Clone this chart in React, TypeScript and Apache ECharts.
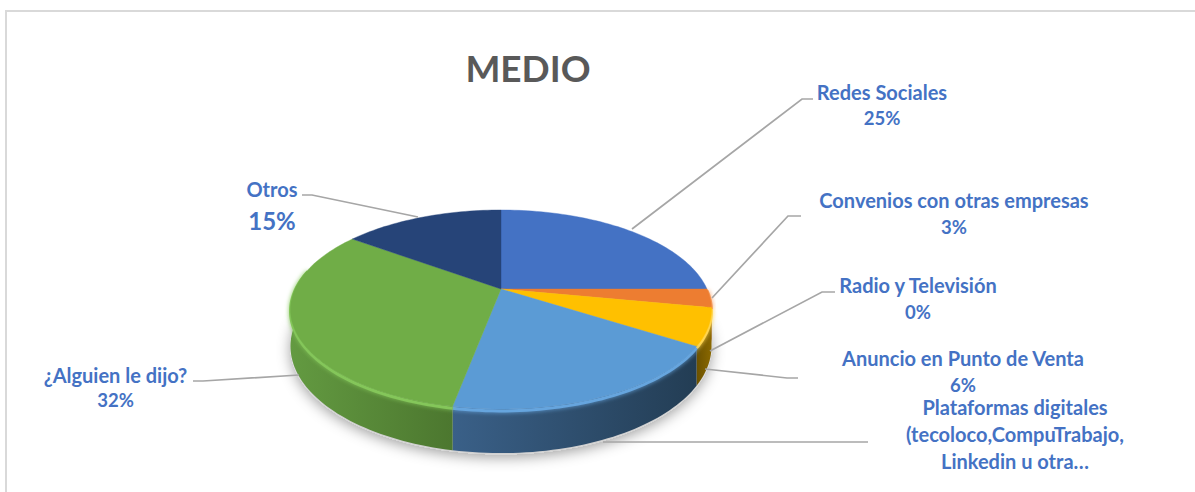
import React, { useEffect, useRef } from "react";
import * as echarts from "echarts";

// Chart content
const chartTitle = "MEDIO";
const categories = [
  "Redes Sociales",
  "Convenios con otras empresas",
  "Radio y Televisión",
  "Anuncio en Punto de Venta",
  "Plataformas digitales\n(tecoloco,CompuTrabajo,\nLinkedin u otra…",
  "¿Alguien le dijo?",
  "Otros",
];
const shares = [25, 3, 0, 6, 19, 32, 15];
const percentShown = [true, true, true, true, false, true, true];

// Slice styling
const topColors = ["#4472C4", "#ED7D31", "#A5A5A5", "#FFC000", "#5B9BD5", "#70AD47", "#264478"];
const rimColors = ["#5F8BD8", "#F59A5C", "#BBBBBB", "#FFD54F", "#66A5DE", "#84C65A", "#3A5C98"];
const sideStops: string[][] = [
  ["#2F5597", "#2F5597"],
  ["#A5561F", "#A5561F"],
  ["#777777", "#777777"],
  ["#6B5100", "#8A6800"],
  ["#3A6088", "#233D54"],
  ["#639A41", "#4C772F"],
  ["#1A2F54", "#1A2F54"],
];

// Perspective disc geometry
const CX = 501;
const CY = 289;
const RX = 206;
const RY = 95.3;
const PERSPECTIVE = 0.206;
const THICKNESS = 35;

// Label placement: anchor of the name, y of the percentage, leader line
const labelLayout = [
  { x: 882, y: 92, py: 118, line: [[632, 229], [802, 99], [813, 99]] },
  { x: 954, y: 200, py: 227, line: [[712, 298], [788, 216], [801, 216]] },
  { x: 918, y: 285, py: 312, line: [[710, 351], [822, 292], [835, 292]] },
  { x: 963, y: 358, py: 385, line: [[705, 369], [787, 378], [798, 378]] },
  { x: 1015, y: 434, py: 0, line: [[603, 442], [868, 442]] },
  { x: 115.5, y: 375, py: 400, line: [[299, 375], [203, 381], [193, 381]] },
  { x: 272, y: 189, py: 220, line: [[418, 217], [312, 195], [302, 195]] },
];

const FONT = "Lato";
const LABEL_COLOR = "#4472C4";
const FRONT_START = 90;
const FRONT_END = 270;
const RIM_END = 282;

const total = shares.reduce((a, b) => a + b, 0);
const startAngle = (i: number) =>
  (shares.slice(0, i).reduce((a, b) => a + b, 0) / total) * 360;

// Projects a rim angle (clockwise from the back of the disc) to the page
const project = (deg: number, drop = 0, radius = 1): number[] => {
  const t = (deg * Math.PI) / 180;
  const u = Math.sin(t) * radius;
  const v = -Math.cos(t) * radius;
  const w = 1 - PERSPECTIVE * v;
  return [CX + (RX * u) / w, CY + (RY * v + drop) / w];
};

const arc = (from: number, to: number, drop = 0): number[][] => {
  const n = Math.max(2, Math.ceil(Math.abs(to - from) / 1.5));
  const pts: number[][] = [];
  for (let i = 0; i <= n; i++) pts.push(project(from + ((to - from) * i) / n, drop));
  return pts;
};

const renderGround = (params: any) => {
  if (params.dataIndex !== 0) return { type: "group", children: [] };
  return {
    type: "polygon",
    shape: { points: arc(0, 360, THICKNESS + 1) },
    style: { fill: "#D0D0D0", shadowBlur: 14, shadowColor: "rgba(0,0,0,0.38)", shadowOffsetY: 3 },
  };
};

const renderSide = (params: any, api: any) => {
  const i = params.dataIndex;
  const from = Math.max(startAngle(i), FRONT_START);
  const to = Math.min(startAngle(i) + (api.value(0) / total) * 360, FRONT_END);
  if (to <= from) return { type: "group", children: [] };
  const upper = arc(from, to);
  const lower = arc(to, from, THICKNESS);
  const xs = upper.map((p) => p[0]);
  const [a, b] = sideStops[i];
  const left = Math.min(...xs);
  const right = Math.max(...xs);
  const rightToLeft = project(from)[0] > project(to)[0];
  return {
    type: "polygon",
    shape: { points: upper.concat(lower) },
    style: {
      fill: new echarts.graphic.LinearGradient(
        left, 0, right, 0,
        [
          { offset: 0, color: rightToLeft ? a : b },
          { offset: 1, color: rightToLeft ? b : a },
        ],
        true
      ),
    },
  };
};

const renderTop = (params: any, api: any) => {
  const i = params.dataIndex;
  const from = startAngle(i);
  const to = from + (api.value(0) / total) * 360;
  if (to <= from) return { type: "group", children: [] };
  const children: any[] = [];
  const rimFrom = Math.max(from, FRONT_START);
  const rimTo = Math.min(to, RIM_END);
  // Soft bevel along the near edge, painted under the flat face
  if (rimTo > rimFrom) {
    children.push({
      type: "polyline",
      shape: { points: arc(rimFrom, rimTo, 1.5) },
      style: {
        fill: "none",
        stroke: rimColors[i],
        lineWidth: 3,
        shadowBlur: 4,
        shadowColor: rimColors[i],
      },
    });
  }
  children.push({
    type: "polygon",
    shape: { points: [[CX, CY], ...arc(from, to)] },
    style: { fill: topColors[i], stroke: topColors[i], lineWidth: 0.4 },
  });
  return { type: "group", children };
};

const renderLabel = (params: any, api: any) => {
  const i = params.dataIndex;
  const spot = labelLayout[i];
  const isOtros = categories[i] === "Otros";
  const children: any[] = [
    {
      type: "polyline",
      shape: { points: spot.line },
      style: { fill: "none", stroke: "#A6A6A6", lineWidth: 1.7 },
    },
    {
      type: "text",
      style: {
        x: spot.x,
        y: spot.y,
        text: categories[i],
        fill: LABEL_COLOR,
        font: `bold 20px ${FONT}`,
        lineHeight: 27,
        textAlign: "center",
        textVerticalAlign: "middle",
      },
    },
  ];
  if (percentShown[i]) {
    children.push({
      type: "text",
      style: {
        x: spot.x,
        y: spot.py,
        text: `${api.value(0)}%`,
        fill: LABEL_COLOR,
        font: `bold ${isOtros ? 24 : 18.5}px ${FONT}`,
        textAlign: "center",
        textVerticalAlign: "middle",
      },
    });
  }
  return { type: "group", children };
};

const layer = (name: string, z: number, renderItem: any) => ({
  type: "custom" as const,
  name,
  coordinateSystem: "none",
  z,
  silent: true,
  clip: false,
  renderItem,
  data: shares.map((value, i) => ({ name: categories[i], value })),
});

export default function App() {
  const ref = useRef<HTMLDivElement>(null);
  useEffect(() => {
    if (!ref.current) return;
    const chart = echarts.init(ref.current, undefined, { renderer: "svg" });
    chart.setOption({
      animation: false,
      backgroundColor: "#FFFFFF",
      title: {
        text: chartTitle,
        left: 523,
        top: 44,
        textAlign: "center",
        textStyle: { fontFamily: FONT, fontWeight: "bold", fontSize: 37, color: "#595959" },
      },
      graphic: [
        {
          type: "polyline",
          z: 0,
          shape: { points: [[6, 492], [6, 11], [1195, 11]] },
          style: { fill: "none", stroke: "#D9D9D9", lineWidth: 2 },
        },
      ],
      series: [
        layer("ground", 1, renderGround),
        layer("side", 2, renderSide),
        layer("top", 3, renderTop),
        layer("labels", 4, renderLabel),
      ],
    });
    return () => chart.dispose();
  }, []);
  return (
    <div
      ref={ref}
      style={{ position: "absolute", left: 0, top: 0, width: 1195, height: 492 }}
    />
  );
}
